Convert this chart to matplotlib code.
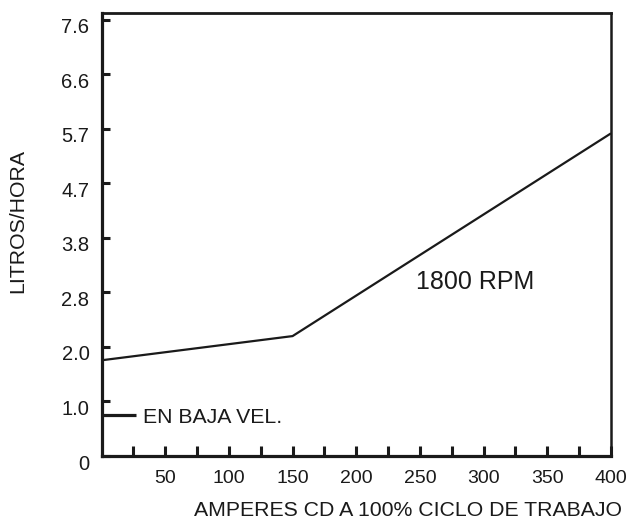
import matplotlib
matplotlib.use("Agg")
import matplotlib.pyplot as plt
from matplotlib.transforms import blended_transform_factory, ScaledTranslation

plt.rcParams['font.family'] = ['Liberation Sans', 'DejaVu Sans']

# Data (y in US gallons/hour; tick labels show litres/hour)
amperes = [0, 150, 400]
consumo_gal = [0.439, 0.55, 1.48]
baja_x = [0, 27]
baja_gal = [0.187, 0.187]

x_major = [50, 100, 150, 200, 250, 300, 350, 400]
x_minor = [25, 75, 125, 175, 225, 275, 325, 375]
y_ticks_gal = [0, 0.25, 0.5, 0.75, 1.0, 1.25, 1.5, 1.75, 2.0]
y_labels = ['0', '1.0', '2.0', '2.8', '3.8', '4.7', '5.7', '6.6', '7.6']

fig = plt.figure(figsize=(6.28, 5.2), dpi=100)
ax = fig.add_axes([101.5/628, 64/520, (611-101.5)/628, (456-13)/520])

ax.plot(amperes, consumo_gal, color='#1a1a1a', lw=1.6, solid_capstyle='butt')
ax.plot(baja_x, baja_gal, color='#1a1a1a', lw=2.3, solid_capstyle='butt')

ax.set_xlim(0, 400)
ax.set_ylim(0, 2.032)

for s in ax.spines.values():
    s.set_color('#1a1a1a')
ax.spines['left'].set_linewidth(2.3)
ax.spines['bottom'].set_linewidth(2.3)
ax.spines['top'].set_linewidth(2.0)
ax.spines['right'].set_linewidth(1.8)

ax.set_xticks(x_major)
ax.set_xticklabels([str(v) for v in x_major])
ax.set_xticks(x_minor, minor=True)
ax.tick_params(axis='x', which='both', direction='in', length=7.5, width=2.2,
               color='#1a1a1a', labelsize=14, pad=10, labelcolor='#1a1a1a')

ax.set_yticks(y_ticks_gal)
ax.set_yticklabels([])
ax.tick_params(axis='y', which='both', direction='in', length=5.5, width=2.2,
               color='#1a1a1a')

trans = blended_transform_factory(ax.transAxes, ax.transData) + \
    ScaledTranslation(-12/100, -8/100, fig.dpi_scale_trans)
for p, lab in zip(y_ticks_gal, y_labels):
    ax.text(0, p, lab, transform=trans, ha='right', va='center',
            fontsize=14.5, color='#1a1a1a')

ax.text(247, 0.766, '1800 RPM', fontsize=18, color='#1a1a1a',
        ha='left', va='baseline')
ax.text(32.6, 0.153, 'EN BAJA VEL.', fontsize=15.3, color='#1a1a1a',
        ha='left', va='baseline')

fig.text(18/628, 1 - 221/520, 'LITROS/HORA', rotation=90, fontsize=15.3,
         ha='center', va='center', color='#1a1a1a')
fig.text(408/628, 1 - 510/520, 'AMPERES CD A 100% CICLO DE TRABAJO',
         fontsize=15.3, ha='center', va='center', color='#1a1a1a')

fig.savefig('out.png', dpi=100)
